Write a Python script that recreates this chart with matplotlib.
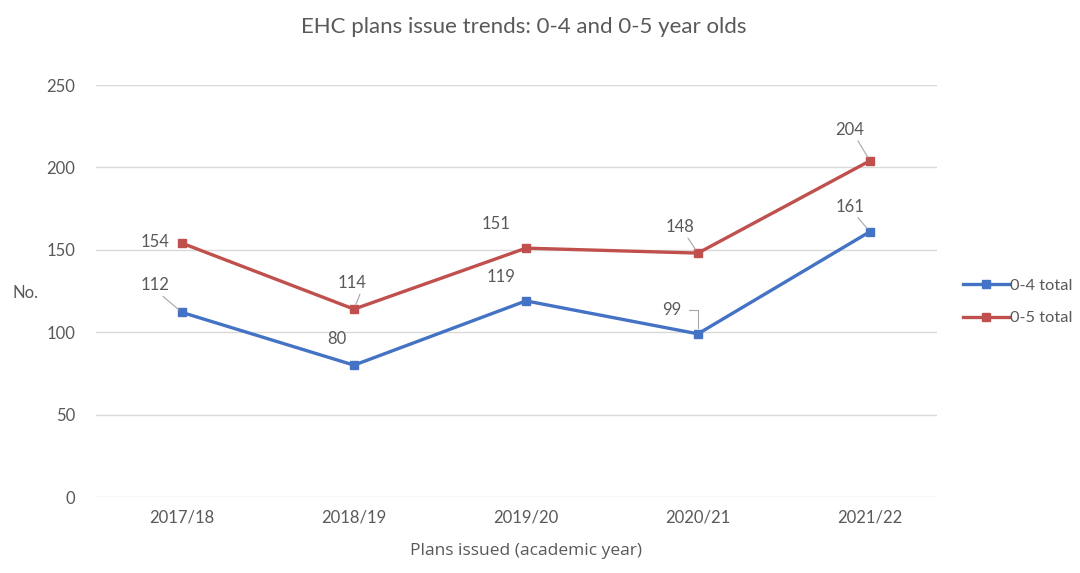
import matplotlib.pyplot as plt

years = ["2017/18", "2018/19", "2019/20", "2020/21", "2021/22"]
total_0_4 = [112, 80, 119, 99, 161]
total_0_5 = [154, 114, 151, 148, 204]
yticks = [0, 50, 100, 150, 200, 250]

plt.rcParams['font.family'] = ['Lato', 'DejaVu Sans']
text_col = '#595959'
blue = '#4472C4'
red = '#C0504D'

fig = plt.figure(figsize=(10.8, 5.73), dpi=100)
ax = fig.add_axes([96 / 1080, 1 - 497 / 573, (937 - 96) / 1080, (497 - 85) / 573])

x = list(range(len(years)))
ax.plot(x, total_0_4, color=blue, lw=2.4, marker='s', ms=6, label='0-4 total')
ax.plot(x, total_0_5, color=red, lw=2.4, marker='s', ms=6, label='0-5 total')

ax.set_xlim(-0.5, 4.39)
ax.set_ylim(0, 250)
ax.set_yticks(yticks)
ax.set_xticks(x)
ax.set_xticklabels(years)
ax.yaxis.grid(True, color='#d9d9d9', lw=1)
ax.set_axisbelow(True)
for s in ax.spines.values():
    s.set_visible(False)
ax.tick_params(length=0, labelsize=12, colors=text_col, pad=15)
ax.tick_params(axis='x', pad=9)

# data labels: (dx, dy) offsets in pixels, and the kind of leader line drawn
offs_0_4 = [(-27, 27, True), (-17, 26, False), (-25, 24, False), (-26, 24, 'bracket'), (-20, 25, True)]
offs_0_5 = [(-27, 1, False), (-2, 26, True), (-30, 24, False), (-18, 26, True), (-20, 31, True)]

def label(series, offs):
    for xi, v, (dx, dy, lead) in zip(x, series, offs):
        ax.annotate(str(v), (xi, v), xytext=(dx, dy), textcoords='offset pixels',
                    ha='center', va='center', fontsize=12, color=text_col, zorder=5)
        if lead is True:
            ax.annotate('', (xi, v), xytext=(dx + 8, dy - 11), textcoords='offset pixels',
                        arrowprops=dict(arrowstyle='-', color='#a6a6a6', lw=0.8,
                                        shrinkA=0, shrinkB=3))
        elif lead == 'bracket':
            ax.annotate('', (xi, v), xytext=(dx + 17, dy), textcoords='offset pixels',
                        arrowprops=dict(arrowstyle='-', color='#a6a6a6', lw=0.8,
                                        connectionstyle='angle,angleA=0,angleB=90,rad=0',
                                        shrinkA=0, shrinkB=4))

label(total_0_4, offs_0_4)
label(total_0_5, offs_0_5)

fig.text(524 / 1080, 1 - 27 / 573, 'EHC plans issue trends: 0-4 and 0-5 year olds',
         ha='center', va='center', fontsize=16, color=text_col)
fig.text(526 / 1080, 1 - 551 / 573, 'Plans issued (academic year)',
         ha='center', va='center', fontsize=12.5, color=text_col,
         family=['Open Sans', 'DejaVu Sans'])
fig.text(25 / 1080, 1 - 293 / 573, 'No.', ha='center', va='center',
         fontsize=12, color=text_col)

leg = fig.legend(loc='center left', bbox_to_anchor=(948 / 1080, 1 - 302 / 573),
                 frameon=False, fontsize=11.8, handlelength=2.8, handletextpad=0.1,
                 labelspacing=1.1)
for t in leg.get_texts():
    t.set_color(text_col)

fig.savefig('out.png', dpi=100, facecolor='white')
